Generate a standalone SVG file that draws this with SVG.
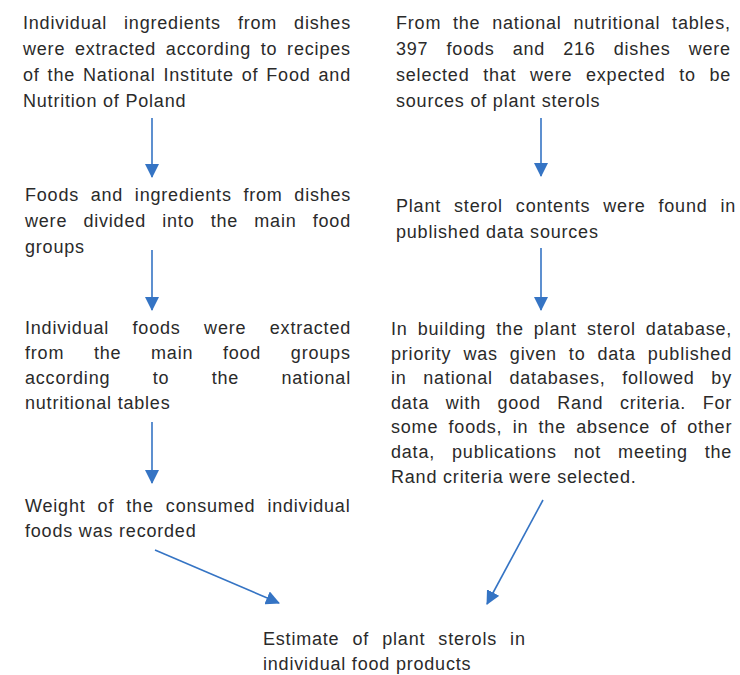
<svg xmlns="http://www.w3.org/2000/svg" width="740" height="675" viewBox="0 0 740 675">
<style>
text{font-family:"Liberation Sans","Open Sans",sans-serif;font-size:18px;letter-spacing:0.8px;fill:#2a2a2a;}
.c{stroke:#3574c4;stroke-width:1.6;fill:none;}
</style>
<defs>
<marker id="ah" markerUnits="userSpaceOnUse" markerWidth="14" markerHeight="14" viewBox="0 0 14 14" refX="13" refY="7" orient="auto">
<path d="M0,0 L14,7 L0,14 Z" fill="#3574c4"/>
</marker>
</defs>
<rect width="740" height="675" fill="#ffffff"/>
<g id="n1">
<text x="23" y="29" word-spacing="11.2">Individual ingredients from dishes</text>
<text x="23" y="55" word-spacing="3.9">were extracted according to recipes</text>
<text x="23" y="81" word-spacing="2.2">of the National Institute of Food and</text>
<text x="23" y="107">Nutrition of Poland</text>
</g>
<g id="n2">
<text x="25" y="201" word-spacing="5.9">Foods and ingredients from dishes</text>
<text x="25" y="227" word-spacing="10.4">were divided into the main food</text>
<text x="25" y="253">groups</text>
</g>
<g id="n3">
<text x="25" y="334" word-spacing="17.7">Individual foods were extracted</text>
<text x="25" y="359" word-spacing="23.9">from the main food groups</text>
<text x="25" y="384" word-spacing="36.6">according to the national</text>
<text x="25" y="409">nutritional tables</text>
</g>
<g id="n4">
<text x="25" y="512" word-spacing="6.3">Weight of the consumed individual</text>
<text x="25" y="537">foods was recorded</text>
</g>
<g id="n5">
<text x="396" y="29" word-spacing="6">From the national nutritional tables,</text>
<text x="396" y="55" word-spacing="12.3">397 foods and 216 dishes were</text>
<text x="396" y="81" word-spacing="7.9">selected that were expected to be</text>
<text x="396" y="107">sources of plant sterols</text>
</g>
<g id="n6">
<text x="396" y="212" word-spacing="7.2">Plant sterol contents were found in</text>
<text x="396" y="238">published data sources</text>
</g>
<g id="n7">
<text x="391" y="335" word-spacing="4.3">In building the plant sterol database,</text>
<text x="391" y="360" word-spacing="6.2">priority was given to data published</text>
<text x="391" y="384" word-spacing="10.9">in national databases, followed by</text>
<text x="391" y="409" word-spacing="10.7">data with good Rand criteria. For</text>
<text x="391" y="433" word-spacing="4.5">some foods, in the absence of other</text>
<text x="391" y="458" word-spacing="11.2">data, publications not meeting the</text>
<text x="391" y="483">Rand criteria were selected.</text>
</g>
<g id="n8">
<text x="263" y="645" word-spacing="7.3">Estimate of plant sterols in</text>
<text x="263" y="670">individual food products</text>
</g>
<g id="connectors">
<line class="c" x1="152" y1="118" x2="152" y2="177" marker-end="url(#ah)"/>
<line class="c" x1="152" y1="250" x2="152" y2="310" marker-end="url(#ah)"/>
<line class="c" x1="152" y1="422" x2="152" y2="483" marker-end="url(#ah)"/>
<line class="c" x1="541" y1="118" x2="541" y2="176" marker-end="url(#ah)"/>
<line class="c" x1="541" y1="248" x2="541" y2="310" marker-end="url(#ah)"/>
<line class="c" x1="155" y1="550" x2="279" y2="603" marker-end="url(#ah)"/>
<line class="c" x1="543" y1="500" x2="487" y2="604" marker-end="url(#ah)"/>
</g>
</svg>
